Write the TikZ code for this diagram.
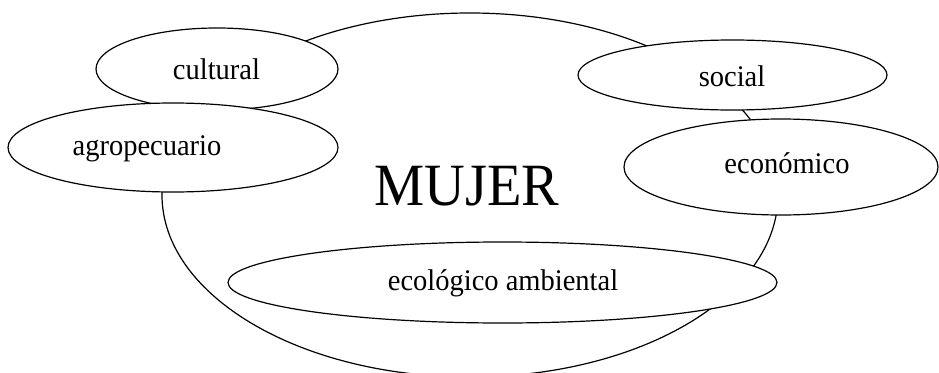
\documentclass[tikz,border=0pt]{standalone}
\usepackage{fontspec}
\setmainfont{Liberation Serif}
\begin{document}
\begin{tikzpicture}[x=1pt,y=-1pt,
  shp/.style={draw=black,line width=1.2pt,fill=white},
  lbl/.style={anchor=base,inner sep=0pt,font=\fontsize{30}{30}\selectfont},
  big/.style={anchor=base,inner sep=0pt,font=\fontsize{60}{60}\selectfont}]
\useasboundingbox (0,0) rectangle (939,372);
\clip (0,0) rectangle (939,372);
\draw[shp] (470,195) ellipse (308 and 182);
\node[big] (mujer) at (467,205) {\scalebox{0.94}[1]{MUJER}};
\draw[shp] (217,69) ellipse (121 and 41);
\node[lbl] (cultural) at (216.5,79) {\scalebox{0.95}[1]{cultural}};
\draw[shp] (173,147.5) ellipse (165 and 44.5);
\node[lbl] (agro) at (147,155) {\scalebox{0.95}[1]{agropecuario}};
\draw[shp] (732.5,75) ellipse (154.5 and 35);
\node[lbl] (social) at (732,86) {\scalebox{0.95}[1]{social}};
\draw[shp] (781,167) ellipse (157 and 48);
\node[lbl] (econ) at (787,173) {\scalebox{0.95}[1]{económico}};
\draw[shp] (502.5,282.5) ellipse (274.5 and 40.5);
\node[lbl] (eco) at (503,290) {\scalebox{0.95}[1]{ecológico ambiental}};
\end{tikzpicture}
\end{document}
